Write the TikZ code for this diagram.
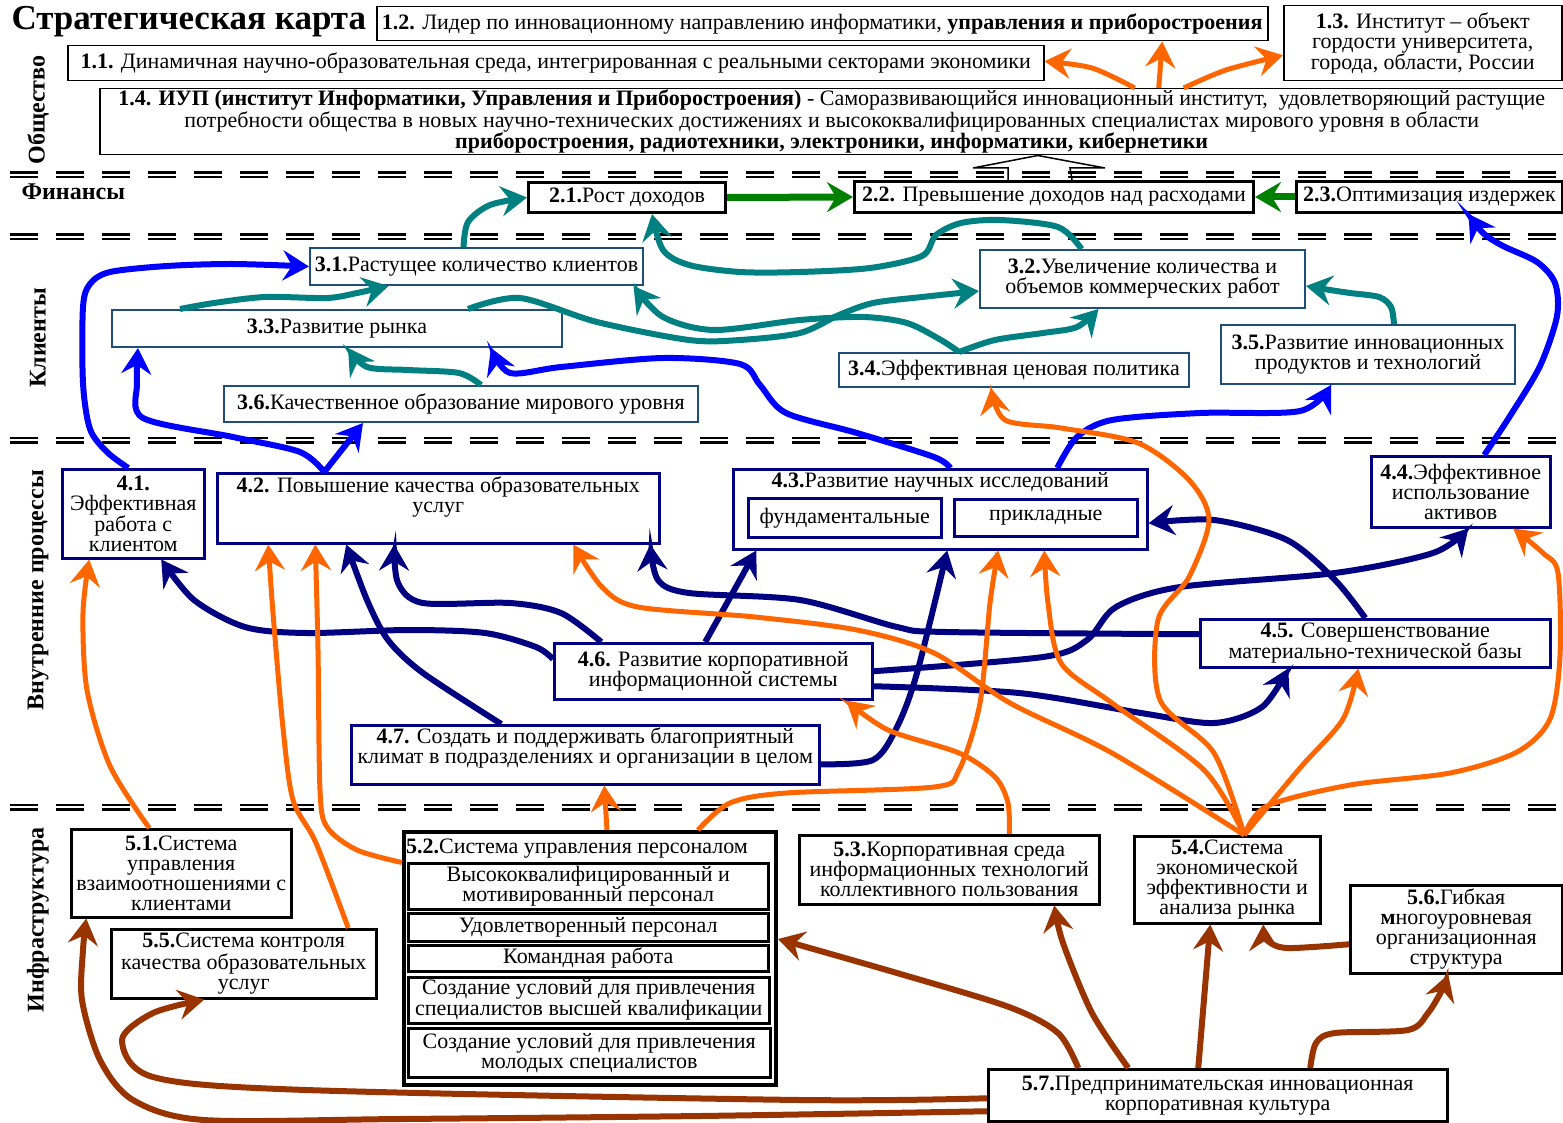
\documentclass[tikz,border=0pt]{standalone}
\usepackage{fontspec}
\setmainfont{Liberation Serif}
\usetikzlibrary{arrows.meta}
\definecolor{orng}{HTML}{FF6600}
\definecolor{navyb}{HTML}{000080}
\definecolor{brwn}{HTML}{993300}
\definecolor{grn}{HTML}{008000}
\definecolor{rowc}{HTML}{1F4E79}
\tikzstyle{box}=[fill=white, align=center, anchor=north west, inner sep=1pt]
\tikzstyle{b1}=[box, draw, line width=1.5pt]
\tikzstyle{b2}=[box, draw, line width=3pt]
\tikzstyle{b3}=[box, draw=rowc, line width=2pt]
\tikzstyle{b4}=[box, draw=navyb, line width=2.5pt]
\tikzstyle{b5}=[box, draw, line width=2.5pt]
\tikzstyle{lane}=[draw, line width=2.5pt, double distance=2pt, dash pattern=on 28pt off 18pt]
\tikzstyle{lanel}=[font=\fontsize{24}{24}\selectfont\bfseries]
\tikzstyle{tip}=[-{Stealth[length=26pt,width=30pt,inset=9pt]}]
\tikzstyle{orarr}=[tip, draw=orng, line width=5pt]
\tikzstyle{tlarr}=[tip, draw=teal, line width=6pt]
\tikzstyle{blarr}=[tip, draw=blue, line width=6pt]
\tikzstyle{nvarr}=[tip, draw=navyb, line width=6pt]
\tikzstyle{brarr}=[tip, draw=brwn, line width=6pt]
\tikzstyle{grarr}=[tip, draw=grn, line width=7pt]
\tikzset{sz/.style 2 args={minimum width=#1pt, minimum height=#2pt}}

\begin{document}
\begin{tikzpicture}[x=1pt, y=-1pt, font=\fontsize{22}{20}\selectfont]
\useasboundingbox (0,0) rectangle (1563,1123);

\draw[lane] (10,175) -- (1563,175);
\draw[lane] (10,237) -- (1563,237);
\draw[lane] (10,440) -- (1563,440);
\draw[lane] (10,807) -- (1563,807);

\node[anchor=west, font=\fontsize{35}{35}\selectfont\bfseries] (title) at (8,22) {Стратегическая карта};
\node[lanel, rotate=90] (lsoc) at (38,110) {Общество};
\node[lanel, anchor=west] (lfin) at (18,192) {Финансы};
\node[lanel, rotate=90] (lcli) at (38,338) {Клиенты};
\node[lanel, rotate=90] (lint) at (38,590) {Внутренние процессы};
\node[lanel, rotate=90] (linf) at (38,920) {Инфраструктура};

\node[b1, sz={891}{34}] (n12) at (376,6) {\textbf{1.2.} Лидер по инновационному направлению информатики, \textbf{управления и приборостроения}};
\node[b1, sz={278}{75}] (n13) at (1283,5) {\textbf{1.3.} Институт – объект\\гордости университета,\\города, области, России};
\node[b1, sz={976}{35}] (n11) at (67,45) {\textbf{1.1.} Динамичная научно-образовательная среда, интегрированная с реальными секторами экономики};
\node[b1, sz={1464}{66}] (n14) at (99,88) {\textbf{1.4. ИУП (институт Информатики, Управления и Приборостроения)} - Саморазвивающийся инновационный институт,\ \ удовлетворяющий растущие\\потребности общества в новых научно-технических достижениях и высококвалифицированных специалистах мирового уровня в области\\\textbf{приборостроения, радиотехники, электроники, информатики, кибернетики}};

\node[b2, sz={197}{30}] (n21) at (527,181) {\textbf{2.1.}Рост доходов};
\node[b2, sz={399}{31}] (n22) at (853,180) {\textbf{2.2.} Превышение доходов над расходами};
\node[b2, sz={266}{31}] (n23) at (1295,180) {\textbf{2.3.}Оптимизация издержек};

\node[b3, sz={333}{37}] (n31) at (309,247) {\textbf{3.1.}Растущее количество клиентов};
\node[b3, sz={325}{58}] (n32) at (979,249) {\textbf{3.2.}Увеличение количества и\\объемов коммерческих работ};
\node[b3, sz={450}{37}] (n33) at (111,309) {\textbf{3.3.}Развитие рынка};
\node[b3, sz={350}{34}] (n34) at (838,352) {\textbf{3.4.}Эффективная ценовая политика};
\node[b3, sz={294}{59}] (n35) at (1220,324) {\textbf{3.5.}Развитие инновационных\\продуктов и технологий};
\node[b3, sz={474}{36}] (n36) at (223,385) {\textbf{3.6.}Качественное образование мирового уровня};

\node[b4, sz={142}{89}] (n41) at (61,468) {\textbf{4.1.}\\Эффективная\\работа с\\клиентом};
\node[b4, sz={442}{70}] (n42) at (216,472) {};
\node[anchor=north, align=center, inner sep=0pt] (t42) at ([yshift=-5pt]n42.north) {\textbf{4.2.} Повышение качества образовательных\\услуг};
\node[b4, sz={414}{80}] (n43) at (732,468) {};
\node[anchor=north, inner sep=0pt] (t43) at ([yshift=-4pt]n43.north) {\textbf{4.3.}Развитие научных исследований};
\node[b4, sz={193}{39}] (n43a) at (747,497) {фундаментальные};
\node[b4, sz={183}{37}] (n43b) at (953,498) {прикладные};
\node[b4, sz={179}{71}] (n44) at (1370,455) {\textbf{4.4.}Эффективное\\использование\\активов};
\node[b4, sz={350}{48}] (n45) at (1199,618) {\textbf{4.5.} Совершенствование\\материально-технической базы};
\node[b4, sz={318}{56}] (n46) at (553,642) {\textbf{4.6.} Развитие корпоративной\\информационной системы};
\node[b4, sz={468}{59}] (n47) at (350,724) {};
\node[anchor=north, align=center, inner sep=0pt] (t47) at ([yshift=-4pt]n47.north) {\textbf{4.7.} Создать и поддерживать благоприятный\\климат в подразделениях и организации в целом};

\node[b5, sz={220}{88}] (n51) at (70,828) {\textbf{5.1.}Система\\управления\\взаимоотношениями с\\клиентами};
\node[b5, sz={265}{69}] (n55) at (110,928) {\textbf{5.5.}Система контроля\\качества образовательных\\услуг};
\node[b5, line width=4pt, sz={372}{253}] (n52) at (402,830) {};
\node[anchor=west, inner sep=0pt] (t52) at (406,849) {\textbf{5.2.}Система управления персоналом};
\node[b5, sz={360}{46}] (n52a) at (407,862) {Высококвалифицированный и\\мотивированный персонал};
\node[b5, sz={360}{28}] (n52b) at (407,912) {Удовлетворенный персонал};
\node[b5, sz={360}{26}] (n52c) at (407,944) {Командная работа};
\node[b5, sz={361}{46}] (n52d) at (407,976) {Создание условий для привлечения\\специалистов высшей квалификации};
\node[b5, sz={362}{49}] (n52e) at (407,1027) {Создание условий для привлечения\\молодых специалистов};
\node[b5, sz={300}{69}] (n53) at (798,834) {\textbf{5.3.}Корпоративная среда\\информационных технологий\\коллективного пользования};
\node[b5, sz={186}{87}] (n54) at (1133,835) {\textbf{5.4.}Система\\экономической\\эффективности и\\анализа рынка};
\node[b5, sz={212}{88}] (n56) at (1349,884) {\textbf{5.6.}Гибкая\\\textbf{м}ногоуровневая\\организационная\\структура};
\node[b5, sz={459}{52}] (n57) at (987,1068) {\textbf{5.7.}Предпринимательская инновационная\\корпоративная культура};

\draw[line width=1.5pt] ([xshift=-46pt]n22.north) -- ++(0,-12) -- ++(-35,0) -- ([xshift=206pt]n14.south) -- (1105,168) -- ++(-35,0) -- ([xshift=18pt]n22.north);

\draw[orarr] plot[smooth] coordinates {([xshift=303pt]n14.north) (1092,68) ([yshift=2pt]n11.east)};
\draw[orarr] ([xshift=327pt]n14.north) -- ([xshift=340pt]n12.south);
\draw[orarr] plot[smooth] coordinates {([xshift=352pt]n14.north) (1226,70) ([yshift=-12pt]n13.west)};

\draw[grarr] (n21.east) -- (n22.west);
\draw[grarr] (n23.west) -- (n22.east);

\draw[tlarr] plot[smooth] coordinates {([xshift=-13pt]n31.north) (468,222) (490,205) (n21.west)};
\draw[tlarr] plot[smooth] coordinates {([xshift=-61pt]n32.north) (1058,227) (1000,220) (961,223) (936,235) (922,256) (870,268) (800,272) (740,272) (689,265) (663,250) ([xshift=25pt]n21.south)};
\draw[tlarr] plot[smooth] coordinates {([xshift=-157pt]n33.north) (214,303) (265,297) (327,298) (357,293) ([xshift=-88pt]n31.south)};
\draw[tlarr] plot[smooth] coordinates {([xshift=131pt]n33.north) (520,298) (597,322) (689,340) (740,340) (800,333) (839,315) (873,303) (922,297) ([yshift=-12pt]n32.west)};
\draw[tlarr] plot[smooth] coordinates {([xshift=-55pt]n34.north) (941,340) (907,323) (863,317) (800,320) (714,330) (663,317) ([xshift=157pt]n31.south)};
\draw[tlarr] plot[smooth] coordinates {([xshift=-55pt]n34.north) (995,340) (1043,333) (1077,327) ([xshift=-44pt]n32.south)};
\draw[tlarr] plot[smooth] coordinates {([xshift=26pt]n35.north) (1391,307) (1379,297) (1350,293) (1330,290) ([yshift=-7pt]n32.east)};
\draw[tlarr] plot[smooth] coordinates {([xshift=20pt]n36.north) (459,373) (408,370) (367,367) ([xshift=11pt]n33.south)};

\draw[blarr] plot[smooth] coordinates {([xshift=-5pt]n41.north) (107,452) (90,429) (83,383) (83,307) (90,284) (110,272) (167,266) (233,264) (n31.west)};
\draw[blarr] plot[smooth] coordinates {([xshift=-114pt]n42.north) (300,452) (233,437) (143,418) (137,383) ([xshift=-199pt]n33.south)};
\draw[blarr] ([xshift=-114pt]n42.north) -- ([xshift=-98pt]n36.south);
\draw[blarr] plot[smooth] coordinates {([xshift=10pt]n43.north) (934,457) (857,433) (786,413) (760,385) (740,364) (663,358) (561,367) (510,373) ([xshift=154pt]n33.south)};
\draw[blarr] plot[smooth] coordinates {([xshift=117pt]n43.north) (1077,437) (1112,420) (1200,413) (1300,411) ([xshift=-37pt]n35.south)};
\draw[blarr] plot[smooth] coordinates {([xshift=23.5pt]n44.north) (1510,416) (1540,366) (1557,316) (1555,283) (1537,262) (1503,246) (1483,233) ([xshift=39pt]n23.south)};

\draw[nvarr] plot[smooth] coordinates {([yshift=12pt]n46.west) (536,647) (485,633) (408,630) (306,633) (245,627) (194,600) ([xshift=28pt]n41.south)};
\draw[nvarr] plot[smooth] coordinates {([xshift=-112pt]n46.north) (561,613) (510,603) (423,603) (398,583) ([xshift=-44pt]n42.south)};
\draw[nvarr] plot[smooth] coordinates {([xshift=-84pt]n47.north) (423,673) (388,640) (367,600) ([xshift=-92pt]n42.south)};
\draw[nvarr] ([xshift=-8pt]n46.north) -- ([xshift=-184pt]n43.south);
\draw[nvarr] plot[smooth] coordinates {([yshift=-9.5pt]n47.east) (873,760) (897,727) (917,673) ([xshift=7pt]n43.south)};
\draw[nvarr] plot[smooth] coordinates {([yshift=9pt]n45.west) (946,632) (897,627) (800,600) (689,593) (658,580) ([xshift=212pt]n42.south)};
\draw[nvarr] plot[smooth] coordinates {(n46.east) (1043,657) (1087,640) (1116,607) (1180,587) (1335,573) (1433,553) ([xshift=7.5pt]n44.south)};
\draw[nvarr] plot[smooth] coordinates {([yshift=-15pt]n46.east) (1019,693) (1141,713) (1214,723) (1262,707) ([xshift=-87pt]n45.south)};
\draw[nvarr] plot[smooth] coordinates {([xshift=-10pt]n45.north) (1335,580) (1287,540) (1214,520) ([yshift=-14pt]n43.east)};

\coordinate (hub) at ([xshift=17pt]n54.north);
\draw[orarr] plot[smooth] coordinates {([xshift=-32pt]n51.north) (110,766) (87,690) (83,613) ([xshift=-44pt]n41.south)};
\draw[orarr] plot[smooth] coordinates {([xshift=104.5pt]n55.north) (316,843) (293,800) (283,728) (273,613) ([xshift=-170pt]n42.south)};
\draw[orarr] plot[smooth] coordinates {([yshift=96pt]n52.west) (357,850) (327,827) (320,790) (318,650) ([xshift=-123pt]n42.south)};
\draw[orarr] ([xshift=17pt]n52.north) -- ([xshift=19pt]n47.south);
\draw[orarr] plot[smooth] coordinates {([xshift=108pt]n52.north) (730,803) (786,793) (934,787) (959,770) (980,703) (990,603) ([xshift=58pt]n43.south)};
\draw[orarr] plot[smooth] coordinates {([xshift=60pt]n53.north) (1008,803) (995,777) (959,753) (888,730) ([xshift=133pt]n46.south)};
\draw[orarr] plot[smooth] coordinates {(hub) (1214,753) (1160,700) (1158,620) (1189,577) (1209,520) (1189,480) (1138,443) (1061,428) (1005,420) ([xshift=-23pt]n34.south)};
\draw[orarr] plot[smooth] coordinates {(hub) (1112,753) (1010,703) (934,653) (857,630) (755,617) (638,607) (602,587) ([xshift=135pt]n42.south)};
\draw[orarr] plot[smooth] coordinates {(hub) (1204,770) (1112,703) (1061,663) (1048,603) ([xshift=104pt]n43.south)};
\draw[orarr] plot[smooth] coordinates {(hub) (1300,768) (1343,719) ([xshift=-17pt]n45.south)};
\draw[orarr] plot[smooth] coordinates {(hub) (1267,806) (1350,785) (1450,773) (1517,752) (1550,719) (1560,656) (1558,573) (1543,553) ([xshift=52.5pt]n44.south)};

\draw[brarr] plot[smooth] coordinates {([yshift=-3pt]n57.west) (800,1100) (306,1090) (153,1077) (122,1040) (153,1013) ([xshift=-39.5pt]n55.south)};
\draw[brarr] plot[smooth] coordinates {([yshift=-16pt]n57.west) (700,1116) (400,1119) (204,1120) (133,1100) (100,1060) (82,1000) (83,950) ([xshift=-95pt]n51.south)};
\draw[brarr] plot[smooth] coordinates {([xshift=-139.5pt]n57.north) (1058,1033) (1009,1007) (897,973) ([yshift=19.5pt]n52.east)};
\draw[brarr] plot[smooth] coordinates {([xshift=-89.5pt]n57.north) (1092,1013) (1063,943) ([xshift=105pt]n53.south)};
\draw[brarr] ([xshift=-19.5pt]n57.north) -- ([xshift=-17pt]n54.south);
\draw[brarr] plot[smooth] coordinates {([yshift=-15pt]n56.west) (1287,948) (1267,940) ([xshift=36pt]n54.south)};
\draw[brarr] plot[smooth] coordinates {([xshift=92.5pt]n57.north) (1316,1043) (1335,1033) (1408,1030) (1428,1013) (1442,990) ([xshift=-8pt]n56.south)};
\end{tikzpicture}
\end{document}
